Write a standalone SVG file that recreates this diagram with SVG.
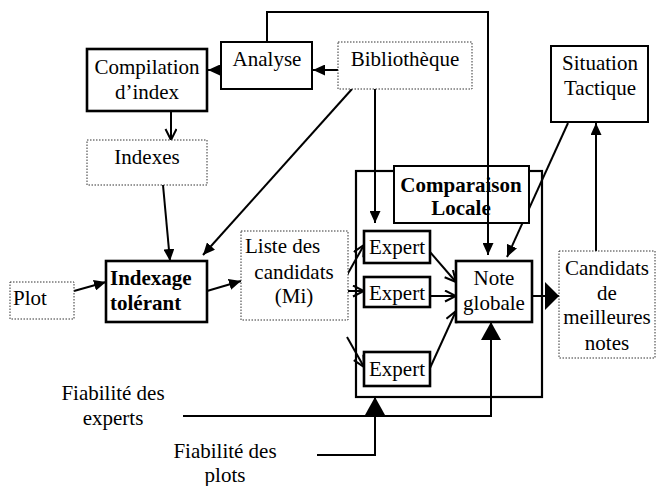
<svg xmlns="http://www.w3.org/2000/svg" width="659" height="486" viewBox="0 0 659 486">
<style>
text{font-family:"Liberation Serif","Times New Roman",serif;font-size:21px;fill:#000}
.c{text-anchor:middle}
.b{font-weight:bold}
.box{fill:#fff;stroke:#000;stroke-width:2}
.thick{fill:#fff;stroke:#000;stroke-width:2.6}
.dot{fill:#fff;stroke:#333;stroke-width:1;stroke-dasharray:1.5,1.5}
.frame{fill:none;stroke:#000;stroke-width:2.2}
.cn{fill:none;stroke:#000;stroke-width:2}
</style>
<defs>
<marker id="fa" markerUnits="userSpaceOnUse" markerWidth="13" markerHeight="11" refX="12" refY="5.5" orient="auto" viewBox="0 0 13 11"><path d="M0,0 L12,5.5 L0,11 z" fill="#000"/></marker>
<marker id="ov" markerUnits="userSpaceOnUse" markerWidth="14" markerHeight="14" refX="12" refY="6" orient="auto" viewBox="0 0 14 14"><path d="M1,0.5 L12,6 L1,11.5" fill="none" stroke="#000" stroke-width="2"/></marker>
<marker id="big" markerUnits="userSpaceOnUse" markerWidth="15" markerHeight="28" refX="14" refY="14" orient="auto" viewBox="0 0 15 28"><path d="M0,0 L14,14 L0,28 z" fill="#000"/></marker>
<marker id="up" markerUnits="userSpaceOnUse" markerWidth="19" markerHeight="20" refX="18" refY="10" orient="auto" viewBox="0 0 19 20"><path d="M0,0 L18,10 L0,20 z" fill="#000"/></marker>
</defs>

<g id="connectors">
<line class="cn" x1="338" y1="70" x2="313" y2="70" marker-end="url(#fa)"/>
<line class="cn" x1="221" y1="70" x2="208" y2="70" marker-end="url(#fa)"/>
<line class="cn" x1="171" y1="111" x2="171" y2="140" marker-end="url(#ov)"/>
<line class="cn" x1="163" y1="185" x2="170" y2="261" marker-end="url(#fa)"/>
<line class="cn" x1="352" y1="89" x2="203" y2="255" marker-end="url(#fa)"/>
<line class="cn" x1="74" y1="291" x2="106" y2="282" marker-end="url(#fa)"/>
<line class="cn" x1="207" y1="291" x2="241" y2="281" marker-end="url(#fa)"/>
<polyline class="cn" points="267,42 267,12 488,12 488,255" marker-end="url(#fa)"/>
<line class="cn" x1="375" y1="89" x2="375" y2="223" marker-end="url(#fa)"/>
<line class="cn" x1="347" y1="275" x2="364" y2="245" marker-end="url(#ov)"/>
<line class="cn" x1="347" y1="291" x2="364" y2="291" marker-end="url(#ov)"/>
<line class="cn" x1="347" y1="337" x2="364" y2="367" marker-end="url(#ov)"/>
<line class="cn" x1="430" y1="252" x2="456" y2="282" marker-end="url(#ov)"/>
<line class="cn" x1="430" y1="296" x2="456" y2="296" marker-end="url(#ov)"/>
<line class="cn" x1="430" y1="368" x2="456" y2="311" marker-end="url(#ov)"/>
<line class="cn" x1="568" y1="123" x2="507" y2="257" marker-end="url(#fa)"/>
<line class="cn" x1="532" y1="296" x2="559" y2="296" marker-end="url(#big)"/>
<line class="cn" x1="596" y1="251" x2="596" y2="123" marker-end="url(#fa)"/>
<polyline class="cn" points="183,416 491,416 491,322" marker-end="url(#up)"/>
<polyline class="cn" points="317,455 375,455 375,397" marker-end="url(#up)"/>
</g>

<g id="comparaison-locale-frame"><rect class="frame" x="356" y="171" width="186" height="226"/></g>
<g id="comparaison-locale"><rect class="box" x="394" y="166" width="135" height="57"/>
<text class="c b" x="461" y="192">Comparaison</text><text class="c b" x="461" y="215">Locale</text></g>
<line class="cn" x1="488" y1="166" x2="488" y2="223"/>

<g id="analyse"><rect class="box" x="221" y="42" width="91" height="47"/><text class="c" x="267" y="66">Analyse</text></g>
<g id="compilation"><rect class="thick" x="87" y="49" width="120" height="62"/><text class="c" x="147" y="74">Compilation</text><text class="c" x="147" y="99">d’index</text></g>
<g id="indexes"><rect class="dot" x="87" y="140" width="120" height="45"/><text class="c" x="147" y="164">Indexes</text></g>
<g id="bibliotheque"><rect class="dot" x="338" y="42" width="134" height="47"/><text class="c" x="405" y="66">Bibliothèque</text></g>
<g id="situation"><rect class="box" x="551" y="46" width="97" height="76"/><text class="c" x="600" y="70">Situation</text><text class="c" x="600" y="95">Tactique</text></g>
<g id="plot"><rect class="dot" x="10" y="282" width="64" height="37"/><text x="13" y="305">Plot</text></g>
<g id="indexage"><rect class="thick" x="106" y="261" width="101" height="61"/><text class="b" x="110" y="285">Indexage</text><text class="b" x="110" y="310">tolérant</text></g>
<g id="liste"><rect class="dot" x="241" y="231" width="107" height="89"/><text x="245" y="253">Liste des</text><text class="c" x="294" y="279">candidats</text><text class="c" x="294" y="303">(Mi)</text></g>
<g id="expert1"><rect class="thick" x="364" y="231" width="66" height="32"/><text class="c" x="397" y="254">Expert</text></g>
<g id="expert2"><rect class="thick" x="364" y="277" width="66" height="30"/><text class="c" x="397" y="300">Expert</text></g>
<g id="expert3"><rect class="thick" x="364" y="352" width="66" height="34"/><text class="c" x="397" y="376">Expert</text></g>
<g id="note-globale"><rect class="thick" x="456" y="261" width="76" height="61"/><text class="c" x="494" y="285">Note</text><text class="c" x="494" y="310">globale</text></g>
<g id="candidats"><rect class="dot" x="559" y="251" width="96" height="107"/><text class="c" x="607" y="275">Candidats</text><text class="c" x="607" y="300">de</text><text class="c" x="607" y="324">meilleures</text><text class="c" x="607" y="350">notes</text></g>
<g id="fiab-experts"><text class="c" x="113" y="400">Fiabilité des</text><text class="c" x="113" y="425">experts</text></g>
<g id="fiab-plots"><text class="c" x="225" y="458">Fiabilité des</text><text class="c" x="225" y="482">plots</text></g>
</svg>
